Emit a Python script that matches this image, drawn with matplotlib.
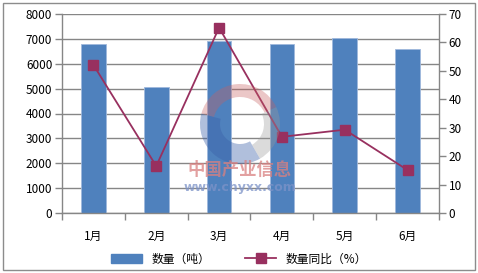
import matplotlib
matplotlib.use("Agg")
import matplotlib.pyplot as plt
from matplotlib.patches import Wedge, Rectangle, Ellipse
from matplotlib.lines import Line2D

plt.rcParams['font.family'] = ['Noto Sans CJK SC', 'DejaVu Sans']

categories = ['1月', '2月', '3月', '4月', '5月', '6月']
quantity = [6800, 5050, 6900, 6800, 7020, 6590]
yoy = [52.1, 16.5, 65.2, 26.8, 29.3, 15.1]

bar_color = '#4F81BD'
line_color = '#98305F'
grid_color = '#868686'

fig = plt.figure(figsize=(4.78, 2.73), dpi=100)
fig.patches.append(Rectangle((0.006, 0.01), 0.988, 0.98, transform=fig.transFigure,
                             fill=False, edgecolor='#8c8c8c', linewidth=1.0))

ax = fig.add_axes([62/478, 1-213/273, (439-62)/478, (213-14)/273])
x = list(range(len(categories)))
ax.bar(x, quantity, width=0.39, color=bar_color, edgecolor='#9fb8dc', linewidth=0.6, zorder=2)
ax.set_xlim(-0.5, 5.5)
ax.set_ylim(0, 8000)
ax.set_yticks(range(0, 8001, 1000))
ax.yaxis.grid(True, color=grid_color, linewidth=1.0, zorder=0)
ax.set_axisbelow(True)
ax.set_xticks(x)
ax.set_xticklabels(categories, fontsize=8.5)
ax.set_xticks([i - 0.5 for i in range(7)], minor=True)
ax.tick_params(axis='x', which='major', length=0, pad=12)
ax.tick_params(axis='x', which='minor', length=5, color=grid_color, width=1.0)
ax.tick_params(axis='y', length=5, color=grid_color, width=1.0, labelsize=8.5, pad=2)
for s in ['top', 'right']:
    ax.spines[s].set_visible(False)
for s in ['left', 'bottom']:
    ax.spines[s].set_color(grid_color)
    ax.spines[s].set_linewidth(1.0)

ax2 = ax.twinx()
ax2.plot(x, yoy, color=line_color, linewidth=1.3, marker='s', markersize=7,
         markerfacecolor=line_color, markeredgecolor=line_color, zorder=5)
ax2.set_ylim(0, 70)
ax2.set_yticks(range(0, 71, 10))
ax2.tick_params(axis='y', length=5, color=grid_color, width=1.0, labelsize=8.5, pad=2)
for s in ['top', 'left', 'bottom']:
    ax2.spines[s].set_visible(False)
ax2.spines['right'].set_color(grid_color)
ax2.spines['right'].set_linewidth(1.0)

# watermark (image coords converted: y_up = 273 - y_img)
wm = fig.add_axes([0, 0, 1, 1], facecolor='none')
wm.set_xlim(0, 478); wm.set_ylim(0, 273); wm.axis('off')
c = (240, 273 - 124)
wm.add_patch(Wedge(c, 40, 25, 165, width=13, color='#c86060', alpha=0.35, linewidth=0))
wm.add_patch(Wedge(c, 40, 165, 300, width=20, color='#3a5fa8', alpha=0.4, linewidth=0))
wm.add_patch(Wedge(c, 40, 300, 385, width=16, color='#9a9a9a', alpha=0.35, linewidth=0))
wm.text(240, 273 - 170, '中国产业信息', fontsize=12.5, color='#d98080', alpha=0.75,
        ha='center', va='center', fontweight='bold')
wm.text(240, 273 - 188, 'www.chyxx.com', fontsize=9, color='#7d93c8', alpha=0.75,
        ha='center', va='center', fontweight='bold', family='DejaVu Sans')

handles = [Rectangle((0, 0), 1, 1, color=bar_color),
           Line2D([0], [0], color=line_color, linewidth=1.3, marker='s', markersize=7)]
fig.legend(handles, ['数量（吨）', '数量同比（%）'], loc='center', bbox_to_anchor=(0.5, 1-259/273),
           ncol=2, frameon=False, fontsize=8.5, handlelength=2.6, columnspacing=3.0)

fig.savefig('out.png', dpi=100)
